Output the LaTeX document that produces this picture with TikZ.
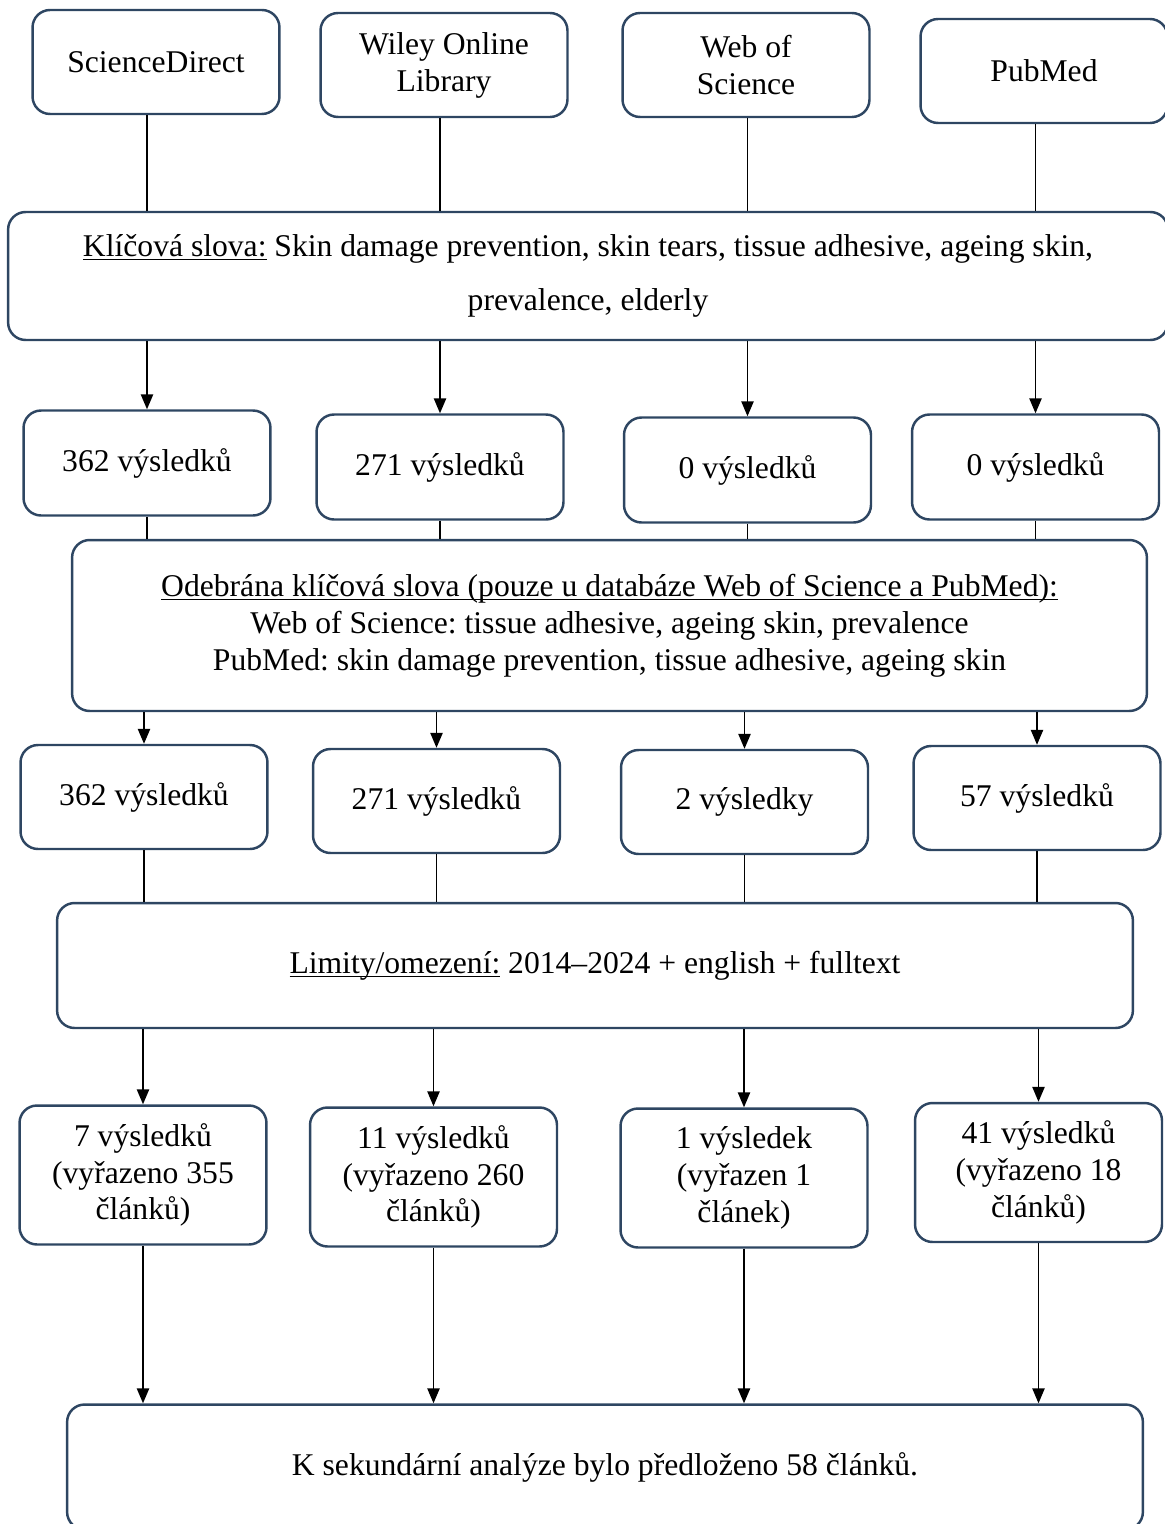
\documentclass[tikz,border=0pt]{standalone}
\usepackage{fontspec}
\setmainfont{Liberation Serif}
\usepackage{xcolor}
\usetikzlibrary{arrows.meta}
\definecolor{boxedge}{RGB}{46,70,98}
\newcommand{\undl}[1]{\underline{\raisebox{0pt}[\height][0.5pt]{#1}}}
\frenchspacing

\begin{document}
\begin{tikzpicture}[
    x=0.02cm, y=-0.02cm,
    font=\fontsize{18}{21}\selectfont,
    >={Triangle[width=7pt,length=8.5pt]},
    box/.style={draw=boxedge, line width=1.4pt, rounded corners=3.5mm, align=center, inner sep=2pt, minimum width=4.94cm, minimum height=#1},
    box/.default=2.08cm,
    wide/.style={box=#1, minimum width=21.52cm},
    wide/.default=2.5cm,
    link/.style={line width=0.8pt},
    flow/.style={->, line width=0.8pt}
  ]
    \useasboundingbox (0,0) rectangle (1165,1524);
    \clip (0,0) rectangle (1165,1524);

    % databases
    \node[box] (db1) at (156,62) {ScienceDirect};
    \node[box] (db2) at (444,65) {Wiley Online\\Library};
    \node[box] (db3) at (746,65) {Web of\\Science};
    \node[box] (db4) at (1044,71) {PubMed};

    \node[box=2.56cm, minimum width=23.2cm] (kw) at (588,276)
      {\undl{Klíčová slova:} Skin damage prevention, skin tears, tissue adhesive, ageing skin,\\[10pt]
       prevalence, elderly};

    % first search
    \node[box=2.1cm] (hit1) at (147,463) {362 výsledků};
    \node[box=2.1cm] (hit2) at (440,467) {271 výsledků};
    \node[box=2.1cm] (hit3) at (747.5,470) {0 výsledků};
    \node[box=2.1cm] (hit4) at (1035.5,467) {0 výsledků};

    \node[wide=3.42cm, minimum width=21.5cm] (rem) at (609.5,625.5)
      {\undl{Odebrána klíčová slova (pouze u databáze Web of Science a PubMed):}\\
       Web of Science: tissue adhesive, ageing skin, prevalence\\
       PubMed: skin damage prevention, tissue adhesive, ageing skin};

    % second search
    \node[box] (hitb1) at (144,797) {362 výsledků};
    \node[box] (hitb2) at (436.5,801) {271 výsledků};
    \node[box] (hitb3) at (744.5,802) {2 výsledky};
    \node[box] (hitb4) at (1037,798) {57 výsledků};

    \node[wide] (lim) at (595,965.5)
      {\undl{Limity/omezení:} 2014–2024 + english + fulltext};

    % after limits
    \node[box=2.78cm] (sel1) at (143,1175) {7 výsledků\\(vyřazeno 355\\článků)};
    \node[box=2.78cm] (sel2) at (433.5,1177) {11 výsledků\\(vyřazeno 260\\článků)};
    \node[box=2.78cm] (sel3) at (744,1178) {1 výsledek\\(vyřazen 1\\článek)};
    \node[box=2.78cm] (sel4) at (1038.5,1172.5) {41 výsledků\\(vyřazeno 18\\článků)};

    \node[wide] (total) at (605,1467)
      {K sekundární analýze bylo předloženo 58 článků.};

    \foreach \i in {1,...,4} {
      \draw[link] (hit\i |- db\i.south) -- (hit\i |- kw.north);
      \draw[flow] (hit\i |- kw.south) -- (hit\i.north);
      \draw[link] (hit\i.south) -- (hit\i |- rem.north);
      \draw[flow] (hitb\i |- rem.south) -- (hitb\i.north);
      \draw[link] (hitb\i.south) -- (hitb\i |- lim.north);
      \draw[flow] (sel\i |- lim.south) -- (sel\i.north);
      \draw[flow] (sel\i.south) -- (sel\i |- total.north);
    }
  \end{tikzpicture}
\end{document}
